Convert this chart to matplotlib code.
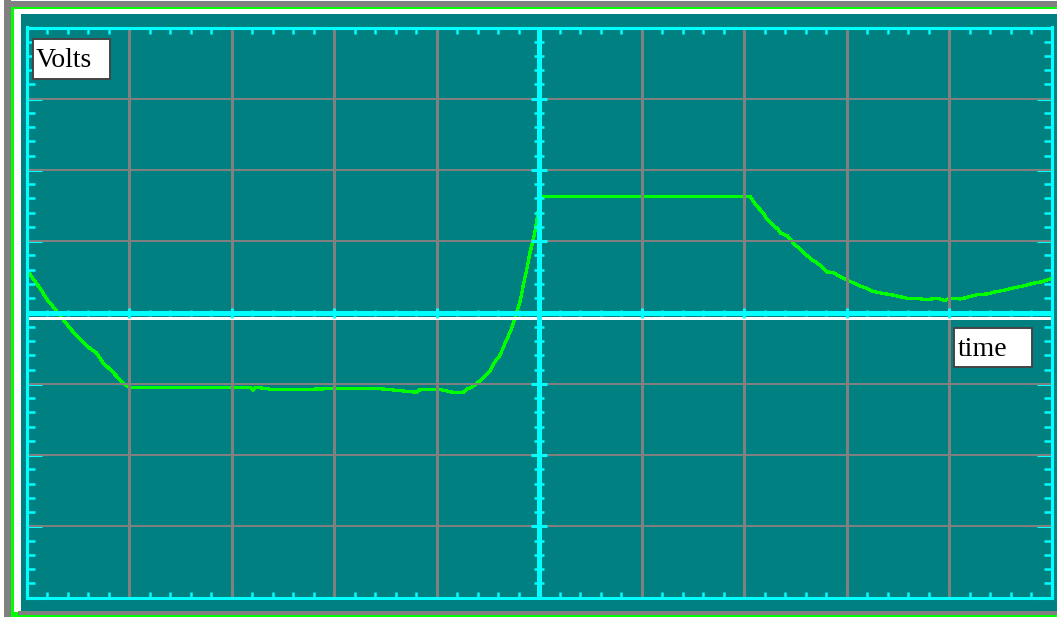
import matplotlib
matplotlib.use('Agg')
import matplotlib.pyplot as plt
from matplotlib.patches import Rectangle
import numpy as np

W, H = 1057, 617

# scope trace, x in divisions (0..10), y in divisions (-4..4)
# first sweep: fall, flat bottom, fast rise
trace1_t = [0.018, 0.066, 0.132, 0.197, 0.278, 0.359, 0.424, 0.505, 0.587, 0.685,
            0.749, 0.831, 0.896, 0.939, 1.00, 2.18, 2.21, 2.24, 2.40, 2.49,
            2.57, 2.67, 2.96, 3.45, 3.81, 3.84, 4.03, 4.16, 4.26, 4.30,
            4.33, 4.40, 4.45, 4.52, 4.57, 4.62, 4.68, 4.72, 4.78, 4.82,
            4.85, 4.88, 4.91, 4.95, 4.98, 4.99]
trace1_v = [0.57, 0.47, 0.34, 0.19, 0.05, -0.10, -0.22, -0.35, -0.47, -0.57,
            -0.71, -0.82, -0.92, -0.99, -1.05, -1.05, -1.09, -1.05, -1.08, -1.08,
            -1.08, -1.08, -1.07, -1.07, -1.12, -1.08, -1.08, -1.12, -1.12, -1.07,
            -1.06, -0.99, -0.92, -0.83, -0.69, -0.60, -0.39, -0.27, -0.01, 0.18,
            0.41, 0.60, 0.83, 1.06, 1.30, 1.40]

# second sweep: flat top, decay, slow recovery
trace2_t = [5.02, 7.06, 7.09, 7.12, 7.16, 7.19, 7.22, 7.25, 7.29, 7.33,
            7.36, 7.42, 7.45, 7.49, 7.53, 7.56, 7.59, 7.63, 7.66, 7.71,
            7.76, 7.81, 7.87, 7.94, 7.99, 8.06, 8.12, 8.18, 8.25, 8.31,
            8.39, 8.47, 8.59, 8.68, 8.78, 8.88, 8.96, 9.01, 9.11, 9.17,
            9.27, 9.37, 9.45, 9.53, 9.61, 9.72, 9.82, 9.90, 9.99]
trace2_v = [1.63, 1.63, 1.56, 1.50, 1.44, 1.39, 1.32, 1.27, 1.22, 1.17,
            1.11, 1.08, 1.03, 0.96, 0.91, 0.87, 0.83, 0.78, 0.74, 0.70,
            0.64, 0.57, 0.56, 0.50, 0.47, 0.42, 0.38, 0.35, 0.30, 0.28,
            0.26, 0.24, 0.20, 0.20, 0.18, 0.20, 0.17, 0.20, 0.19, 0.21,
            0.25, 0.26, 0.29, 0.31, 0.34, 0.37, 0.41, 0.43, 0.47]

grid_x = [1, 2, 3, 4, 6, 7, 8, 9]
grid_y = [-3, -2, -1, 1, 2, 3]
time_axis_v = -0.077

TEAL = '#008080'
CYAN = '#00ffff'
GRAY = '#808080'
GREEN = '#00ff00'


def px_rect(fig, x0, y0, x1, y1, **kw):
    # rectangle given in pixels from the top left corner
    r = Rectangle((x0 / W, 1 - y1 / H), (x1 - x0) / W, (y1 - y0) / H,
                  transform=fig.transFigure, **kw)
    fig.patches.append(r)
    return r


fig = plt.figure(figsize=(W / 100, H / 100), dpi=100, facecolor='white')

# bevelled outer frame, kept behind the axes
px_rect(fig, 11, 7, W, H, facecolor=GREEN, edgecolor='none', zorder=-10)
px_rect(fig, 4, 0, 11, H, facecolor=GRAY, edgecolor='none', zorder=-10)
px_rect(fig, 4, 1, W, 7, facecolor=GRAY, edgecolor='none', zorder=-10)
px_rect(fig, 14, 9, W, 612, facecolor='white', edgecolor='none', zorder=-10)
px_rect(fig, 18, 611, W, 615, facecolor=GRAY, edgecolor='none', zorder=-10)
px_rect(fig, 21, 14, W, 611, facecolor=TEAL, edgecolor='none', zorder=-10)

ax = fig.add_axes([26.5 / W, 19.5 / H, 1025 / W, 570 / H])
ax.set_facecolor(TEAL)
ax.set_xlim(0, 10)
ax.set_ylim(-4, 4)

for s in ax.spines.values():
    s.set_color(CYAN)
    s.set_linewidth(2.2)
    s.set_zorder(6)

ax.set_xticks(np.arange(0, 11))
ax.set_xticks(np.arange(0, 10.01, 0.2), minor=True)
ax.set_yticks(np.arange(-4, 5))
ax.set_yticks(np.arange(-4, 4.01, 0.2), minor=True)
ax.tick_params(which='both', direction='in', top=True, right=True,
               colors=CYAN, labelbottom=False, labelleft=False)
ax.xaxis.set_tick_params(which='major', length=8, width=2.2)
ax.xaxis.set_tick_params(which='minor', length=4.3, width=1.8)
ax.yaxis.set_tick_params(which='major', length=11, width=2.2)
ax.yaxis.set_tick_params(which='minor', length=6, width=1.8)

# trace sits under the graticule
ax.plot(trace1_t, trace1_v, color=GREEN, lw=1.6, antialiased=False, zorder=1)
ax.plot(trace2_t, trace2_v, color=GREEN, lw=1.6, antialiased=False, zorder=1)

ax.vlines(grid_x, -4, 4, color=GRAY, lw=2.16, antialiased=False, zorder=2)
ax.hlines(grid_y, 0, 10, color=GRAY, lw=1.44, antialiased=False, zorder=2)

ax.axhline(time_axis_v, color='white', lw=1.8, antialiased=False, zorder=3)

# centre cross with its little ticks
ax.axhline(0, color=CYAN, lw=2.2, antialiased=False, zorder=4)
ax.axvline(5, color=CYAN, lw=2.2, antialiased=False, zorder=4)
xm = np.arange(0, 10.01, 0.2)
ym = np.arange(-4, 4.01, 0.2)
ax.plot(xm, np.zeros_like(xm), ls='none', marker='|', ms=5, mew=1.8, color=CYAN, zorder=4)
ax.plot(np.arange(0, 11), np.zeros(11), ls='none', marker='|', ms=6.5, mew=2.2, color=CYAN, zorder=4)
ax.plot(np.full_like(ym, 5), ym, ls='none', marker='_', ms=7.2, mew=1.8, color=CYAN, zorder=4)
ax.plot(np.full(9, 5), np.arange(-4, 5), ls='none', marker='_', ms=12, mew=2.2, color=CYAN, zorder=4)

# label boxes
px_rect(fig, 32.5, 38.5, 110, 78.5, facecolor='white', edgecolor='#444444', lw=1.4, zorder=10)
px_rect(fig, 954, 328, 1031.5, 367, facecolor='white', edgecolor='#444444', lw=1.4, zorder=10)
fig.text(36 / W, 1 - 66.7 / H, 'Volts', family='Liberation Serif', fontsize=20,
         color='black', ha='left', va='baseline', zorder=11)
fig.text(958 / W, 1 - 356 / H, 'time', family='Liberation Serif', fontsize=20,
         color='black', ha='left', va='baseline', zorder=11)

fig.savefig('out.png', dpi=100, facecolor=fig.get_facecolor())
